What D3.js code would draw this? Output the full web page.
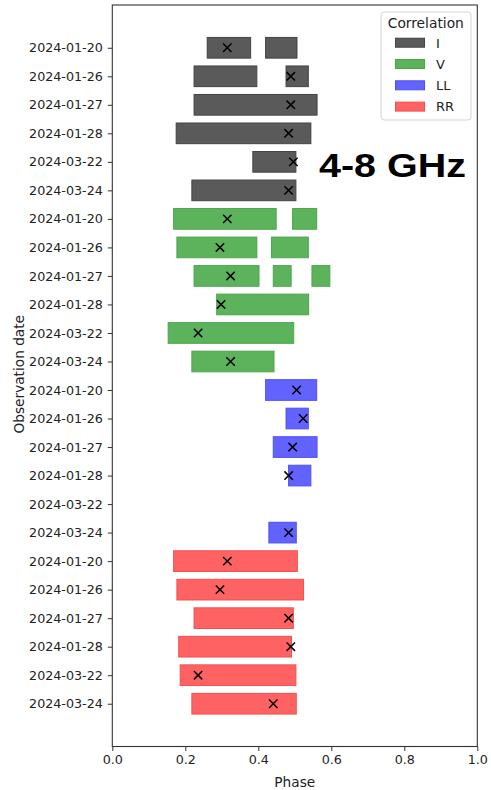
<!DOCTYPE html>
<html>
<head>
<meta charset="utf-8">
<script src="https://cdn.jsdelivr.net/npm/d3@7"></script>
<style>
  html, body { margin: 0; padding: 0; background: #fff; }
  svg { display: block; }
</style>
</head>
<body>
<svg id="chart" width="491" height="790"></svg>
<script>
// ---- data ----
const dates = ["2024-01-20", "2024-01-26", "2024-01-27", "2024-01-28", "2024-03-22", "2024-03-24"];
const correlations = ["I", "V", "LL", "RR"];
const colors = ["#5a5a5a", "#5cb35c", "#6262ff", "#ff6262"];
const edgeColors = ["#444444", "#4ca64c", "#5050f0", "#f05050"];
const xTicks = [0.0, 0.2, 0.4, 0.6, 0.8, 1.0];

// phase intervals [start, end] for each date, per correlation
const segI = [
  [[0.260, 0.379], [0.420, 0.506]],
  [[0.224, 0.396], [0.476, 0.537]],
  [[0.224, 0.561]],
  [[0.175, 0.544]],
  [[0.385, 0.503]],
  [[0.218, 0.503]]
];
const segV = [
  [[0.168, 0.449], [0.494, 0.560]],
  [[0.177, 0.396], [0.436, 0.537]],
  [[0.224, 0.402], [0.441, 0.490], [0.547, 0.596]],
  [[0.286, 0.538]],
  [[0.153, 0.497]],
  [[0.218, 0.443]]
];
const segLL = [
  [[0.420, 0.560]],
  [[0.476, 0.537]],
  [[0.441, 0.561]],
  [[0.483, 0.544]],
  [],
  [[0.429, 0.504]]
];
const segRR = [
  [[0.168, 0.507]],
  [[0.177, 0.524]],
  [[0.224, 0.496]],
  [[0.182, 0.491]],
  [[0.186, 0.503]],
  [[0.218, 0.504]]
];
// peak phase (x marker) for each date, per correlation
const peakI  = [0.315, 0.489, 0.489, 0.483, 0.496, 0.483];
const peakV  = [0.315, 0.295, 0.324, 0.298, 0.235, 0.324];
const peakLL = [0.505, 0.523, 0.494, 0.483, null, 0.483];
const peakRR = [0.315, 0.295, 0.483, 0.489, 0.235, 0.441];

const bandLabel = "4-8 GHz";

// ---- build rows ----
const segsAll = [segI, segV, segLL, segRR];
const peaksAll = [peakI, peakV, peakLL, peakRR];
const rows = [];
correlations.forEach((c, ci) => {
  dates.forEach((d, di) => {
    rows.push({ corr: c, ci: ci, date: d, segs: segsAll[ci][di], peak: peaksAll[ci][di] });
  });
});

// ---- layout ----
const mLeft = 112.3, mRight = 477.3, mTop = 5, mBottom = 746.5;
const svg = d3.select("#chart");
const x = d3.scaleLinear().domain([0, 1]).range([mLeft, mRight]);
const y = d3.scaleLinear().domain([-1.5, rows.length + 0.5]).range([mTop, mBottom]);
const step = y(1) - y(0);
const barH = step * 0.725;

const font = "DejaVu Sans, sans-serif";

// bars
const g = svg.append("g");
rows.forEach((r, i) => {
  r.segs.forEach(s => {
    g.append("rect")
      .attr("x", x(s[0]))
      .attr("y", y(i) - barH / 2)
      .attr("width", x(s[1]) - x(s[0]))
      .attr("height", barH)
      .attr("fill", colors[r.ci])
      .attr("stroke", edgeColors[r.ci])
      .attr("stroke-width", 1);
  });
});
// markers
const ms = 4.2;
rows.forEach((r, i) => {
  if (r.peak == null) return;
  const cx = x(r.peak), cy = y(i);
  g.append("path")
    .attr("d", `M${cx - ms},${cy - ms}L${cx + ms},${cy + ms}M${cx - ms},${cy + ms}L${cx + ms},${cy - ms}`)
    .attr("stroke", "#000")
    .attr("stroke-width", 1.5)
    .attr("fill", "none");
});

// axes
const xAxis = d3.axisBottom(x).tickValues(xTicks).tickFormat(d3.format(".1f")).tickSize(4.5).tickPadding(4);
const gx = svg.append("g").attr("transform", `translate(0,${mBottom})`).call(xAxis);
const yAxis = d3.axisLeft(y).tickValues(d3.range(rows.length)).tickFormat(i => rows[i].date).tickSize(4.5).tickPadding(5);
const gy = svg.append("g").attr("transform", `translate(${mLeft},0)`).call(yAxis);
[gx, gy].forEach(a => {
  a.select(".domain").remove();
  a.selectAll("text").attr("font-family", font).attr("font-size", "12.7px").attr("fill", "#222");
  a.selectAll("line").attr("stroke", "#333").attr("stroke-width", 1);
});

// frame
svg.append("rect")
  .attr("x", mLeft).attr("y", mTop)
  .attr("width", mRight - mLeft).attr("height", mBottom - mTop)
  .attr("fill", "none").attr("stroke", "#333").attr("stroke-width", 1.1);

// axis labels
svg.append("text").attr("x", (mLeft + mRight) / 2).attr("y", 786.5)
  .attr("text-anchor", "middle").attr("font-family", font).attr("font-size", "13.7px").attr("fill", "#222")
  .text("Phase");
svg.append("text").attr("transform", `translate(24,${(mTop + mBottom) / 2 - 1.5}) rotate(-90)`)
  .attr("text-anchor", "middle").attr("font-family", font).attr("font-size", "13.7px").attr("fill", "#222")
  .text("Observation date");

// band label
svg.append("text").attr("x", 319).attr("y", 177)
  .attr("font-family", "Liberation Sans, Arial, sans-serif").attr("font-weight", "bold")
  .attr("font-size", "34px").attr("fill", "#000")
  .attr("textLength", 147).attr("lengthAdjust", "spacingAndGlyphs")
  .text(bandLabel);

// legend
const lg = svg.append("g");
lg.append("rect").attr("x", 381).attr("y", 12).attr("width", 90).attr("height", 108)
  .attr("rx", 3).attr("fill", "#fff").attr("fill-opacity", 0.85)
  .attr("stroke", "#d5d5d5").attr("stroke-width", 1);
lg.append("text").attr("x", 425.8).attr("y", 28).attr("text-anchor", "middle")
  .attr("font-family", font).attr("font-size", "13.8px").attr("fill", "#222").text("Correlation");
correlations.forEach((c, i) => {
  const cy = 42.7 + i * 21.3;
  lg.append("rect").attr("x", 395.5).attr("y", cy - 4.5).attr("width", 29).attr("height", 9)
    .attr("fill", colors[i]).attr("stroke", edgeColors[i]).attr("stroke-width", 1);
  lg.append("text").attr("x", 436).attr("y", cy + 4.8)
    .attr("font-family", font).attr("font-size", "13px").attr("fill", "#222").text(c);
});
</script>
</body>
</html>
